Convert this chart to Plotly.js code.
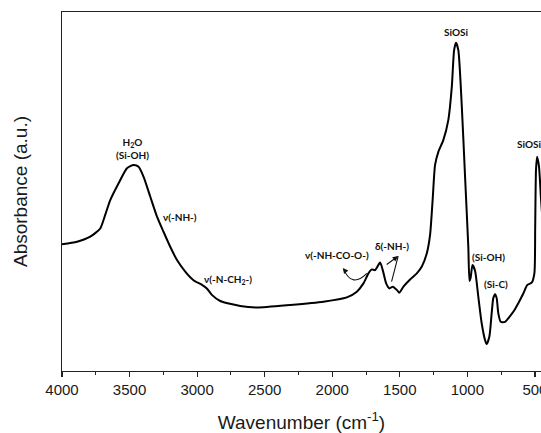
<!DOCTYPE html>
<html>
<head>
<meta charset="utf-8">
<script src="https://cdn.plot.ly/plotly-3.0.1.min.js"></script>
<style>html,body{margin:0;padding:0;background:#fff;}#chart{width:541px;height:433px;}</style>
</head>
<body>
<div id="chart"></div>
<script>
// Wavenumber (cm-1) and absorbance (arbitrary units)
const wavenumber = [4000,3889,3791,3717,3680,3643,3581,3519,3470,3433,3396,3347,3297,3249,3199,3149,3088,3027,2964,2928,2891,2829,2681,2558,2311,2065,1892,1818,1769,1732,1707,1683,1646,1626,1601,1577,1552,1522,1503,1473,1424,1374,1337,1300,1276,1257,1239,1214,1178,1141,1115,1098,1084,1067,1041,1017,993,984,976,962,943,919,894,869,857,837,820,808,795,783,771,753,721,684,660,623,586,556,524,504,498,492,484,470,455,440];
const absorbance = [35.3,36.0,37.4,39.7,43.5,47.6,52.3,56.5,57.4,56.9,54.1,48.6,43.0,38.8,34.6,30.9,27.7,25.3,24.0,23.0,21.2,19.5,18.1,17.7,18.4,19.3,20.5,22.1,24.4,27.2,28.3,28.1,30.2,28.1,24.4,23.0,23.5,22.6,21.8,23.5,25.5,27.2,29.1,32.8,37.9,47.6,57.4,61.1,64.3,69.9,79.2,89.4,91.4,89.4,73.6,54.1,34.6,25.1,25.9,29.5,27.9,20.7,13.3,8.6,7.5,9.6,16.1,20.3,21.4,20.3,16.1,13.7,13.7,15.3,16.5,18.9,21.6,24.0,24.6,27.2,40.0,56.0,59.7,57.0,48.0,40.0];
const tickValues = [4000,3500,3000,2500,2000,1500,1000,500];
const tickLabels = ["4000","3500","3000","2500","2000","1500","1000","500"];
const bandLabels = ["H<sub>2</sub>O<br>(Si-OH)","ν(-NH-)","ν(-N-CH<sub>2</sub>-)","ν(-NH-CO-O-)","δ(-NH-)","SiOSi","(Si-OH)","(Si-C)","SiOSi"];
const bandX = [3480,3130,2772,1966,1559,1084,845,788,544];
const bandY = [61.9,42.9,25.6,32.3,34.8,94.5,31.8,24.2,63.3];

const lblFont = {family:"Lato, 'Open Sans', sans-serif", size:10, color:"#111", weight:700};
const annotations = bandLabels.map((t,i)=>({
  x: bandX[i], y: bandY[i], xref:'x', yref:'y', text:'<b>'+t+'</b>', showarrow:false,
  font: lblFont, xanchor:'center', yanchor:'middle'
}));
// arrows
annotations.push({x:1922, y:28.7, xref:'x', yref:'y', ax:4, ay:5, showarrow:true, arrowhead:2, arrowsize:1, arrowwidth:1.1, arrowcolor:'#111', text:''});
annotations.push({x:1512, y:32.0, xref:'x', yref:'y', ax:-13, ay:9.5, showarrow:true, arrowhead:2, arrowsize:1, arrowwidth:1.1, arrowcolor:'#111', text:''});
annotations.push({x:1512, y:32.0, xref:'x', yref:'y', ax:-7, ay:27, showarrow:true, arrowhead:0, arrowwidth:1.1, arrowcolor:'#111', text:''});

const trace = {
  x: wavenumber, y: absorbance, type:'scatter', mode:'lines',
  line:{color:'#000', width:2, shape:'spline', smoothing:0.6},
  hoverinfo:'skip'
};

const layout = {
  width:541, height:433,
  margin:{l:62, r:0, t:12, b:62},
  paper_bgcolor:'#fff', plot_bgcolor:'#fff',
  showlegend:false,
  font:{family:"'Liberation Sans', Arial, sans-serif", color:'#1a1a1a'},
  xaxis:{
    range:[4000,455], tickvals:tickValues, ticktext:tickLabels,
    ticks:'outside', ticklen:5, tickwidth:1.2, tickcolor:'#222',
    ticklabeloverflow:'allow',
    minor:{dtick:250, tick0:0, ticks:'outside', ticklen:3, tickwidth:1, tickcolor:'#222'},
    showline:true, linecolor:'#222', linewidth:1.3, mirror:true,
    showgrid:false, zeroline:false,
    tickfont:{size:15, color:'#1a1a1a'},
    title:{text:'Wavenumber (cm<sup>-1</sup>)', font:{size:19, color:'#1a1a1a'}, standoff:19}
  },
  yaxis:{
    range:[0,100], showticklabels:false, ticks:'',
    showline:true, linecolor:'#222', linewidth:1.3, mirror:false,
    showgrid:false, zeroline:false,
    title:{text:'Absorbance (a.u.)', font:{size:19, color:'#1a1a1a'}, standoff:28}
  },
  shapes:[
    {type:'path', xref:'x', yref:'y', path:'M 1744,27.2 Q 1853,23.1 1912,28.1', line:{color:'#111', width:1.1}}
  ],
  annotations: annotations
};
Plotly.newPlot('chart',[trace],layout,{staticPlot:true, displayModeBar:false});
</script>
</body>
</html>
